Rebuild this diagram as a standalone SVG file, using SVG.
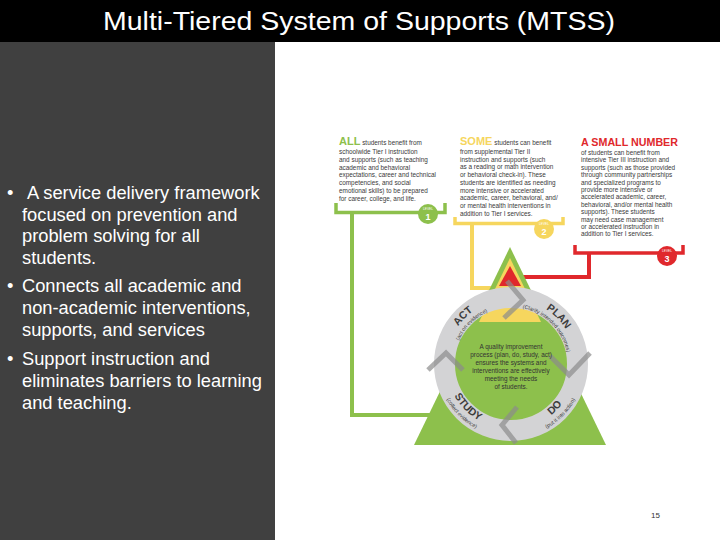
<svg xmlns="http://www.w3.org/2000/svg" width="720" height="540" viewBox="0 0 720 540">
<defs>
<style>
.bul{font-family:"Liberation Sans",Arial,sans-serif;font-size:18.3px;fill:#ffffff}
.sm{font-family:"Liberation Sans",Arial,sans-serif;font-size:6.4px;fill:#3a3a3a}
.hd{font-family:"Liberation Sans",Arial,sans-serif;font-size:11px;font-weight:bold}
.ctr{font-family:"Liberation Sans",Arial,sans-serif;font-size:6.4px;fill:#333;text-anchor:middle}
.big{font-family:"Liberation Sans",Arial,sans-serif;font-size:10.5px;font-weight:bold;fill:#3c3c3c}
.lbl{font-family:"Liberation Sans",Arial,sans-serif;font-size:5.4px;fill:#3c3c3c}
.lv{font-family:"Liberation Sans",Arial,sans-serif;font-size:3.2px;fill:#fff;text-anchor:middle}
.num{font-family:"Liberation Sans",Arial,sans-serif;font-size:9px;font-weight:bold;fill:#fff;text-anchor:middle}
.conn{fill:none;stroke-width:4}
.chev{fill:none;stroke:#8c8c8c;stroke-width:5;stroke-opacity:0.7;stroke-linejoin:miter}
</style>
<path id="pAct" d="M448.21,380.82 A65,65 0 0 1 527.82,301.21"/>
<path id="pActS" d="M455.94,378.75 A57,57 0 0 1 525.75,308.94"/>
<path id="pPlan" d="M494.18,301.21 A65,65 0 0 1 573.79,380.82"/>
<path id="pPlanS" d="M496.25,308.94 A57,57 0 0 1 566.06,378.75"/>
<path id="pDo" d="M494.18,426.79 A65,65 0 0 0 573.79,347.18"/>
<path id="pDoS" d="M491.98,435.00 A73.5,73.5 0 0 0 582.00,344.98"/>
<path id="pStudy" d="M448.21,347.18 A65,65 0 0 0 527.82,426.79"/>
<path id="pStudyS" d="M440.00,344.98 A73.5,73.5 0 0 0 530.02,435.00"/>
</defs>

<rect x="0" y="0" width="720" height="540" fill="#ffffff"/>
<g id="left-panel">
<rect x="0" y="42" width="275" height="498" fill="#404040"/>
</g>
<g id="title">
<rect x="0" y="0" width="720" height="42" fill="#000000"/>
<text x="103" y="30" font-family="Liberation Sans, Arial, sans-serif" font-size="26" fill="#ffffff" textLength="512" lengthAdjust="spacingAndGlyphs">Multi-Tiered System of Supports (MTSS)</text>
</g>

<g id="bullets">
<text class="bul" x="7" y="199">•</text>
<text class="bul" x="27" y="199">A service delivery framework</text>
<text class="bul" x="22" y="220.5">focused on prevention and</text>
<text class="bul" x="22" y="242">problem solving for all</text>
<text class="bul" x="22" y="263.5">students.</text>
<text class="bul" x="7" y="292">•</text>
<text class="bul" x="22" y="292">Connects all academic and</text>
<text class="bul" x="22" y="314">non-academic interventions,</text>
<text class="bul" x="22" y="336">supports, and services</text>
<text class="bul" x="7" y="365">•</text>
<text class="bul" x="22" y="365">Support instruction and</text>
<text class="bul" x="22" y="387">eliminates barriers to learning</text>
<text class="bul" x="22" y="409">and teaching.</text>
</g>

<g id="connectors">
<path class="conn" stroke="#8dc04c" d="M352,212 V415 H440"/>
<path class="conn" stroke="#f6d65e" d="M472,224 V288 H500"/>
<path class="conn" stroke="#e0282c" d="M589,253 V277 H512"/>
</g>

<g id="tier1">
<text class="sm" x="339" y="145"><tspan class="hd" fill="#8dc04c">ALL</tspan> students benefit from</text>
<text class="sm" x="339" y="154">schoolwide Tier I instruction</text>
<text class="sm" x="339" y="161.8">and supports (such as teaching</text>
<text class="sm" x="339" y="169.6">academic and behavioral</text>
<text class="sm" x="339" y="177.4">expectations, career and technical</text>
<text class="sm" x="339" y="185.2">competencies, and social</text>
<text class="sm" x="339" y="193">emotional skills) to be prepared</text>
<text class="sm" x="339" y="200.8">for career, college, and life.</text>
<path d="M336,203 V212.5 H445 V203" fill="none" stroke="#8dc04c" stroke-width="3.5"/>
<circle cx="428" cy="214" r="10" fill="#8dc04c"/>
<text class="lv" x="428" y="209.5">LEVEL</text>
<text class="num" x="428" y="220">1</text>
</g>

<g id="tier2">
<text class="sm" x="460" y="145"><tspan class="hd" fill="#f6d65e">SOME</tspan> students can benefit</text>
<text class="sm" x="460" y="154">from supplemental Tier II</text>
<text class="sm" x="460" y="161.7">instruction and supports (such</text>
<text class="sm" x="460" y="169.4">as a reading or math intervention</text>
<text class="sm" x="460" y="177.1">or behavioral check-in). These</text>
<text class="sm" x="460" y="184.8">students are identified as needing</text>
<text class="sm" x="460" y="192.5">more intensive or accelerated</text>
<text class="sm" x="460" y="200.2">academic, career, behavioral, and/</text>
<text class="sm" x="460" y="207.9">or mental health interventions in</text>
<text class="sm" x="460" y="215.6">addition to Tier I services.</text>
<path d="M455,217 V223.5 H563 V217" fill="none" stroke="#f6d65e" stroke-width="3.5"/>
<circle cx="544" cy="229" r="10" fill="#f6d65e"/>
<text class="lv" x="544" y="224.5">LEVEL</text>
<text class="num" x="544" y="235">2</text>
</g>

<g id="tier3">
<text class="hd" x="581" y="146" fill="#e0282c" textLength="97" lengthAdjust="spacingAndGlyphs">A SMALL NUMBER</text>
<text class="sm" x="581" y="155">of students can benefit from</text>
<text class="sm" x="581" y="162.4">intensive Tier III instruction and</text>
<text class="sm" x="581" y="169.8">supports (such as those provided</text>
<text class="sm" x="581" y="177.2">through community partnerships</text>
<text class="sm" x="581" y="184.6">and specialized programs to</text>
<text class="sm" x="581" y="192">provide more intensive or</text>
<text class="sm" x="581" y="199.4">accelerated academic, career,</text>
<text class="sm" x="581" y="206.8">behavioral, and/or mental health</text>
<text class="sm" x="581" y="214.2">supports). These students</text>
<text class="sm" x="581" y="221.6">may need case management</text>
<text class="sm" x="581" y="229">or accelerated instruction in</text>
<text class="sm" x="581" y="236.4">addition to Tier I services.</text>
<path d="M575,245 V253 H683 V245" fill="none" stroke="#e0282c" stroke-width="3.5"/>
<circle cx="667" cy="256" r="10" fill="#e0282c"/>
<text class="lv" x="667" y="251.5">LEVEL</text>
<text class="num" x="667" y="262">3</text>
</g>

<g id="pyramid">
<polygon points="510,247 414,445 606,445" fill="#8dc04c"/>
<circle cx="511" cy="364" r="57" fill="#8dc04c"/>
<polygon points="510,258 479,322 541,322" fill="#f6d65e"/>
<polygon points="510,266 499,286 521,286" fill="#e0282c"/>
</g>

<g id="cycle">
<circle cx="511" cy="364" r="66.5" fill="none" stroke="#d3d3d5" stroke-width="21"/>
<path class="chev" d="M507,281 L523,300 L504,318"/>
<path class="chev" d="M550,356 L569,375 L590,353"/>
<path class="chev" d="M517,407 L502,425 L516,443"/>
<path class="chev" d="M428,370 L446,353 L463,370"/>
<text class="big"><textPath href="#pAct" startOffset="50%" text-anchor="middle">ACT</textPath></text>
<text class="lbl"><textPath href="#pActS" startOffset="50%" text-anchor="middle">(act on evidence)</textPath></text>
<text class="big"><textPath href="#pPlan" startOffset="50%" text-anchor="middle">PLAN</textPath></text>
<text class="lbl"><textPath href="#pPlanS" startOffset="50%" text-anchor="middle">(Clarify intended outcomes)</textPath></text>
<text class="big"><textPath href="#pDo" startOffset="50%" text-anchor="middle">DO</textPath></text>
<text class="lbl"><textPath href="#pDoS" startOffset="50%" text-anchor="middle">(put it into action)</textPath></text>
<text class="big"><textPath href="#pStudy" startOffset="50%" text-anchor="middle">STUDY</textPath></text>
<text class="lbl"><textPath href="#pStudyS" startOffset="50%" text-anchor="middle">(collect evidence)</textPath></text>
<text class="ctr" x="511" y="348.5">A quality improvement</text>
<text class="ctr" x="511" y="356.6">process (plan, do, study, act)</text>
<text class="ctr" x="511" y="364.7">ensures the systems and</text>
<text class="ctr" x="511" y="372.8">interventions are effectively</text>
<text class="ctr" x="511" y="380.9">meeting the needs</text>
<text class="ctr" x="511" y="389">of students.</text>
</g>

<g id="page-number">
<text x="651" y="518" font-family="Liberation Sans, Arial, sans-serif" font-size="8" fill="#333">15</text>
</g>
</svg>
